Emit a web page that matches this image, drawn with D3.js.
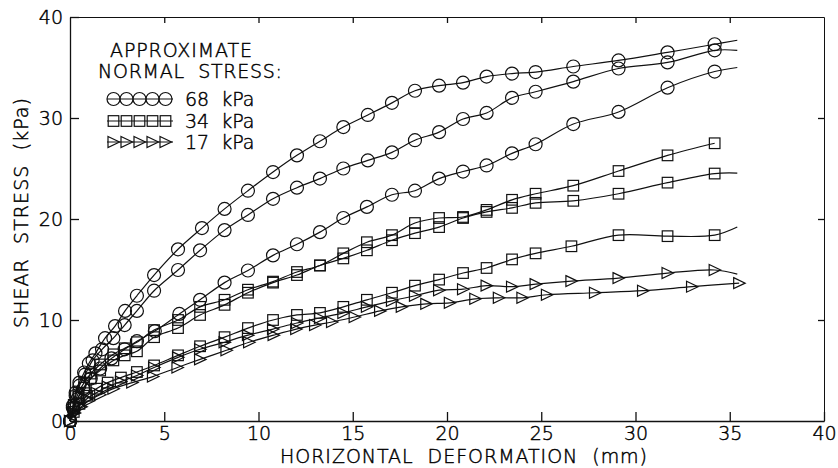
<!DOCTYPE html>
<html>
<head>
<meta charset="utf-8">
<script src="https://cdn.jsdelivr.net/npm/d3@7/dist/d3.min.js"></script>
<style>
  body { margin: 0; background: #fff; }
  text { font-family: "DejaVu Sans", sans-serif; font-weight: 200; fill: #000; stroke: #000; stroke-width: 0.45px; }
</style>
</head>
<body>
<svg width="838" height="468"></svg>
<script>
// shear stress (kPa) vs horizontal deformation (mm)
const circleA = [[0,0],[0.15,1.5],[0.3,2.8],[0.5,3.8],[0.75,4.8],[1.0,5.7],[1.35,6.7],[1.86,8.2],[2.39,9.4],[2.92,10.9],[3.55,12.4],[4.46,14.45],[5.73,17.0],[7.0,19.1],[8.2,21.0],[9.44,22.8],[10.77,24.65],[12.04,26.3],[13.26,27.7],[14.5,29.1],[15.8,30.3],[17.08,31.5],[18.3,32.7],[19.58,33.2],[20.85,33.5],[22.1,34.1],[23.45,34.4],[24.7,34.55],[26.7,35.1],[29.1,35.7],[31.7,36.5],[34.2,37.3]];
const circleB = [[0,0],[0.15,1.3],[0.3,2.5],[0.5,3.5],[0.8,4.6],[1.2,6.0],[1.7,7.1],[2.3,8.2],[2.9,9.5],[3.55,10.9],[4.46,12.9],[5.73,14.95],[6.9,16.9],[8.2,18.9],[9.44,20.4],[10.77,22.0],[12.04,23.1],[13.26,24.0],[14.5,25.0],[15.8,25.8],[17.08,26.6],[18.3,27.8],[19.58,28.6],[20.85,29.9],[22.1,30.5],[23.45,32.0],[24.7,32.6],[26.7,33.6],[29.1,34.9],[31.7,35.5],[34.2,36.7]];
const circleC = [[0,0],[0.2,1.2],[0.4,2.2],[0.7,3.2],[1.1,4.2],[1.6,5.2],[2.2,6.2],[2.9,7.1],[3.55,7.9],[4.5,8.9],[5.8,10.6],[6.9,12.0],[8.2,13.7],[9.44,14.9],[10.77,16.4],[12.04,17.5],[13.26,18.7],[14.5,20.1],[15.75,21.2],[17.08,22.4],[18.3,22.8],[19.58,24.0],[20.85,24.7],[22.1,25.3],[23.45,26.5],[24.7,27.4],[26.7,29.4],[29.1,30.6],[31.7,33.0],[34.2,34.6]];
const squareA = [[0,0],[0.2,1.6],[0.45,2.8],[0.75,3.8],[1.1,4.7],[1.6,5.6],[2.3,6.6],[2.9,7.2],[3.55,7.8],[4.46,9.0],[5.73,10.0],[6.9,11.3],[8.2,12.0],[9.44,13.0],[10.77,13.8],[12.04,14.75],[13.26,15.4],[14.5,16.6],[15.75,17.7],[17.08,18.4],[18.3,19.6],[19.58,20.1],[20.85,20.2],[22.1,20.9],[23.45,21.9],[24.7,22.5],[26.7,23.3],[29.1,24.75],[31.7,26.3],[34.2,27.5]];
const squareB = [[0,0],[0.2,1.3],[0.45,2.4],[0.75,3.3],[1.1,4.2],[1.6,5.0],[2.3,6.0],[2.9,6.5],[3.55,6.9],[4.46,8.3],[5.73,9.2],[6.9,10.5],[8.2,11.5],[9.44,12.7],[10.77,13.7],[12.04,14.45],[13.26,15.4],[14.5,16.1],[15.75,16.9],[17.08,17.9],[18.3,18.6],[19.58,19.2],[20.85,20.1],[22.1,20.7],[23.45,21.1],[24.7,21.6],[26.7,21.8],[29.1,22.5],[31.7,23.6],[34.2,24.5]];
const squareC = [[0,0],[0.2,0.9],[0.5,1.7],[0.9,2.5],[1.4,3.2],[2.0,3.8],[2.7,4.3],[3.55,4.85],[4.46,5.5],[5.73,6.5],[6.9,7.4],[8.2,8.3],[9.44,9.2],[10.77,10.0],[12.04,10.5],[13.26,10.7],[14.5,11.3],[15.75,12.0],[17.08,12.7],[18.3,13.4],[19.58,14.0],[20.85,14.65],[22.1,15.15],[23.45,16.0],[24.7,16.6],[26.6,17.3],[29.1,18.4],[31.7,18.3],[34.2,18.4]];
const triA = [[0,0],[0.2,0.8],[0.5,1.5],[0.9,2.2],[1.4,2.8],[2.0,3.4],[2.7,3.9],[3.55,4.5],[4.46,5.3],[5.73,6.3],[6.9,7.1],[8.2,7.8],[9.44,8.5],[10.77,9.1],[12.04,9.7],[13.26,10.2],[14.5,10.7],[15.75,11.3],[17.08,11.9],[18.3,12.4],[19.58,12.95],[20.85,13.05],[22.1,13.4],[23.45,13.3],[24.7,13.55],[26.6,13.85],[29.1,14.15],[31.7,14.65],[34.2,14.95]];
const triB = [[0,0],[0.25,0.8],[0.6,1.4],[1.0,2.0],[1.6,2.6],[2.3,3.2],[3.3,3.8],[4.4,4.4],[5.7,5.3],[6.9,6.1],[8.3,7.0],[9.5,7.8],[10.8,8.5],[12.0,9.1],[13.0,9.5],[13.9,9.8],[15.1,10.3],[16.45,10.9],[17.6,11.3],[18.9,11.6],[20.15,11.7],[21.5,12.1],[22.75,12.2],[24.0,12.2],[25.3,12.5],[27.85,12.7],[30.4,12.9],[33.0,13.3],[35.5,13.65]];
// line continues past the last marker
const tailPoints = [[35.4,37.7],[35.4,36.7],[35.4,35.0],null,[35.4,24.55],[35.4,19.2],[35.4,14.55],null];
const seriesShapes = ['circle','circle','circle','square','square','square','tri','tri'];
const seriesData = [circleA, circleB, circleC, squareA, squareB, squareC, triA, triB];

const xTicks = [0,5,10,15,20,25,30,35,40];
const yTicks = [0,10,20,30,40];
const legendLabels = ['68','34','17'];
const legendShapes = ['circle','square','tri'];

const svg = d3.select('svg');
const x = d3.scaleLinear().domain([0,40]).range([70,824]);
const y = d3.scaleLinear().domain([0,40]).range([421,17]);

// marker drawing
function marker(g, shape, cx, cy){
  if(shape==='circle'){
    g.append('circle').attr('cx',cx).attr('cy',cy).attr('r',6.5);
  } else if(shape==='square'){
    g.append('rect').attr('x',cx-5.3).attr('y',cy-5.3).attr('width',10.6).attr('height',10.6);
  } else {
    g.append('path').attr('d',`M${cx-5.5},${cy-5.5}L${cx+6},${cy}L${cx-5.5},${cy+5.5}Z`);
  }
}

// axes
const axisStyle = g => {
  g.selectAll('path,line').attr('stroke','#111').attr('stroke-width',1.3);
  g.selectAll('text').attr('font-size',19).attr('fill','#000').attr('font-family',null);
};
svg.append('g').attr('transform','translate(0,421)')
  .call(d3.axisBottom(x).tickValues(xTicks).tickSizeInner(-9).tickSizeOuter(0).tickPadding(6))
  .call(axisStyle);
svg.append('g').attr('transform','translate(0,17)')
  .call(d3.axisTop(x).tickValues(xTicks.slice(1,-1)).tickSizeInner(-6).tickSizeOuter(0).tickFormat(''))
  .call(axisStyle).selectAll('path').attr('stroke-width',1);
svg.append('g').attr('transform','translate(70,0)')
  .call(d3.axisLeft(y).tickValues(yTicks).tickSizeInner(-9).tickSizeOuter(0).tickPadding(7))
  .call(axisStyle);
svg.append('g').attr('transform','translate(824,0)')
  .call(d3.axisRight(y).tickValues(yTicks.slice(1,-1)).tickSizeInner(-6).tickSizeOuter(0).tickFormat(''))
  .call(axisStyle).selectAll('path').attr('stroke-width',1);

// axis titles
svg.append('text').attr('x',280).attr('y',463).attr('font-size',19)
  .attr('textLength',367).attr('lengthAdjust','spacing')
  .text('HORIZONTAL  DEFORMATION  (mm)').style('white-space','pre');
svg.append('text').attr('transform','translate(28,328) rotate(-90)').attr('font-size',19)
  .attr('textLength',230).attr('lengthAdjust','spacing')
  .text('SHEAR  STRESS  (kPa)').style('white-space','pre');

// curves
const line = d3.line().x(d=>x(d[0])).y(d=>y(d[1])).curve(d3.curveCatmullRom.alpha(0.5));
const plot = svg.append('g').attr('fill','none').attr('stroke','#111');
seriesData.forEach((pts,i)=>{
  const all = tailPoints[i] ? pts.concat([tailPoints[i]]) : pts;
  plot.append('path').attr('d',line(all)).attr('stroke-width',1.2);
  const mg = plot.append('g').attr('stroke-width',1.2);
  pts.forEach(p=>marker(mg, seriesShapes[i], x(p[0]), y(p[1])));
});

// legend
svg.append('text').attr('x',110).attr('y',57).attr('font-size',19)
  .attr('textLength',142).attr('lengthAdjust','spacing').text('APPROXIMATE');
svg.append('text').attr('x',98).attr('y',78).attr('font-size',19)
  .attr('textLength',184).attr('lengthAdjust','spacing')
  .text('NORMAL  STRESS:').style('white-space','pre');
const legendRowY = [99,121,142];
legendLabels.forEach((lab,i)=>{
  const cy = legendRowY[i];
  const lg = svg.append('g').attr('fill','none').attr('stroke','#111').attr('stroke-width',1.2);
  lg.append('line').attr('x1',107).attr('x2',173).attr('y1',cy).attr('y2',cy);
  for(let k=0;k<5;k++) marker(lg, legendShapes[i], 113.5+k*13, cy);
  svg.append('text').attr('x',185).attr('y',cy+7).attr('font-size',19)
    .style('white-space','pre').text(lab+'  kPa');
});
</script>
</body>
</html>
